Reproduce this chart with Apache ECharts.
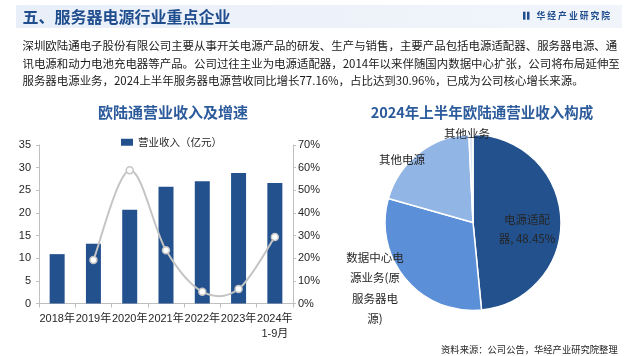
<!DOCTYPE html>
<html>
<head>
<meta charset="utf-8">
<script src="https://cdn.jsdelivr.net/npm/echarts@6/dist/echarts.min.js"></script>
<style>
html,body{margin:0;padding:0;background:#fff;}
#main{width:640px;height:356px;}
</style>
</head>
<body>
<div id="main"></div>
<script>
// ---- data ----
var categories = ['2018年', '2019年', '2020年', '2021年', '2022年', '2023年', '2024年\n1-9月'];
var revenue = [10.9, 13.2, 20.7, 25.8, 27.0, 28.8, 26.6];
var growth = [null, 19.2, 58.8, 23.5, 5.2, 6.4, 29.4];
var leftTicks = [0, 5, 10, 15, 20, 25, 30, 35];
var rightTicks = [0, 10, 20, 30, 40, 50, 60, 70];
var pieNames = ['电源适配器', '数据中心电源业务(原服务器电源)', '其他电源', '其他业务'];
var pieValues = [48.45, 30.96, 19.84, 0.75];
var pieLabels = ['电源适配\n器, 48.45%', '数据中心电\n源业务(原\n服务器电\n源)', '其他电源', '其他业务'];
var paragraph = [
  '深圳欧陆通电子股份有限公司主要从事开关电源产品的研发、生产与销售，主要产品包括电源适配器、服务器电源、通',
  '讯电源和动力电池充电器等产品。公司过往主业为电源适配器，2014年以来伴随国内数据中心扩张，公司将布局延伸至',
  '服务器电源业务，2024上半年服务器电源营收同比增长77.16%，占比达到30.96%，已成为公司核心增长来源。'
];

var FONT = '"Liberation Sans", Arial, "Noto Sans CJK SC", sans-serif';
var CJK = '"Noto Sans CJK SC", "Liberation Sans", sans-serif';
var chart = echarts.init(document.getElementById('main'), null, {renderer: 'canvas'});

// fit paragraph font so that the first line spans the reference width
var cv = document.createElement('canvas').getContext('2d');
cv.font = '12px ' + CJK;
var w12 = cv.measureText(paragraph[0]).width;
var paraSize = Math.round(12 * 595 / w12 * 100) / 100;

var pieColors = ['#22518e', '#5b8fd7', '#91b5e4', '#dde8f6'];
var pieLabelPos = [
  {x: 527, y: 229, lh: 19},
  {x: 375, y: 288, lh: 20.5},
  {x: 402, y: 160, lh: 16},
  {x: 467, y: 134, lh: 16}
];

var graphics = [
  {type: 'rect', shape: {x: 16, y: 5, width: 606, height: 23},
   style: {fill: new echarts.graphic.LinearGradient(0, 0, 1, 0, [{offset: 0, color: '#e9eff9'}, {offset: 1, color: '#f1f5fb'}])}, silent: true},
  {type: 'text', x: 22.5, y: 16.7, style: {text: '五、服务器电源行业重点企业', font: 'bold 16px ' + CJK, fill: '#1f4d8e', verticalAlign: 'middle'}},
  {type: 'rect', shape: {x: 523, y: 11.7, width: 2.5, height: 8}, style: {fill: '#1f4d8e'}},
  {type: 'rect', shape: {x: 527, y: 11.7, width: 2.5, height: 8}, style: {fill: '#1f4d8e'}},
  {type: 'text', x: 536.5, y: 15.7, style: {text: '华 经 产 业 研 究 院', font: 'bold 8.8px ' + CJK, fill: '#1f4d8e', verticalAlign: 'middle'}},
  {type: 'text', x: 617.7, y: 349.3, style: {text: '资料来源：公司公告，华经产业研究院整理', font: '9.3px ' + CJK, fill: '#262626', align: 'right', verticalAlign: 'middle'}}
];
var paraCenters = [46, 63.5, 81];
paragraph.forEach(function (t, i) {
  graphics.push({type: 'text', x: 22.5, y: paraCenters[i], style: {text: t, font: paraSize + 'px ' + CJK, fill: '#1a1a1a', verticalAlign: 'middle'}});
});

function catmullSegment(params, api) {
  var i = params.dataIndex;
  if (i >= growth.length - 1 || growth[i] == null || growth[i + 1] == null) return null;
  var p1 = api.coord([i, growth[i]]);
  var p2 = api.coord([i + 1, growth[i + 1]]);
  var p0 = (i > 0 && growth[i - 1] != null) ? api.coord([i - 1, growth[i - 1]]) : p1;
  var p3 = (i + 2 < growth.length && growth[i + 2] != null) ? api.coord([i + 2, growth[i + 2]]) : p2;
  var t = 1 / 6;
  return {
    type: 'bezierCurve',
    shape: {
      x1: p1[0], y1: p1[1], x2: p2[0], y2: p2[1],
      cpx1: p1[0] + (p2[0] - p0[0]) * t, cpy1: p1[1] + (p2[1] - p0[1]) * t,
      cpx2: p2[0] - (p3[0] - p1[0]) * t, cpy2: p2[1] - (p3[1] - p1[1]) * t
    },
    style: {stroke: '#c4c4c4', lineWidth: 2, fill: null}
  };
}

var option = {
  animation: false,
  textStyle: {fontFamily: FONT},
  title: [
    {text: '欧陆通营业收入及增速', left: 168, top: 100, textAlign: 'center',
     textStyle: {fontSize: 15, fontWeight: 'bold', color: '#2c5b9c', fontFamily: CJK}},
    {text: '2024年上半年欧陆通营业收入构成', left: 477, top: 100, textAlign: 'center',
     textStyle: {fontSize: 14.5, fontWeight: 'bold', color: '#2c5b9c', fontFamily: CJK}}
  ],
  legend: {
    data: ['营业收入（亿元）'], left: 116, top: 132, itemWidth: 12, itemHeight: 7,
    textStyle: {fontSize: 10.5, color: '#262626', fontFamily: CJK}, icon: 'rect'
  },
  grid: {left: 39, right: 347, top: 145, bottom: 52.5},
  xAxis: {
    type: 'category', data: categories,
    axisLine: {lineStyle: {color: '#bfbfbf'}},
    axisTick: {show: true, length: 4, lineStyle: {color: '#bfbfbf'}},
    axisLabel: {interval: 0, fontSize: 11, color: '#262626', margin: 8, lineHeight: 15}
  },
  yAxis: [
    {type: 'value', min: leftTicks[0], max: leftTicks[leftTicks.length - 1], interval: leftTicks[1] - leftTicks[0],
     axisLine: {show: true, lineStyle: {color: '#bfbfbf'}},
     axisTick: {show: true, length: 3, lineStyle: {color: '#bfbfbf'}},
     axisLabel: {fontSize: 11, color: '#262626', margin: 8},
     splitLine: {show: false}},
    {type: 'value', min: rightTicks[0], max: rightTicks[rightTicks.length - 1], interval: rightTicks[1] - rightTicks[0],
     position: 'right',
     axisLine: {show: true, lineStyle: {color: '#bfbfbf'}},
     axisTick: {show: true, length: 3, lineStyle: {color: '#bfbfbf'}},
     axisLabel: {fontSize: 11, color: '#262626', margin: 5, formatter: '{value}%'},
     splitLine: {show: false}}
  ],
  series: [
    {name: '营业收入（亿元）', type: 'bar', data: revenue, barWidth: 15, itemStyle: {color: '#22518e'}},
    {name: '增速曲线', type: 'custom', yAxisIndex: 1, renderItem: catmullSegment, z: 3,
     data: growth.map(function (v, i) { return [i, v == null ? 0 : v]; }), silent: true},
    {name: '增速', type: 'line', yAxisIndex: 1, data: growth, z: 4,
     symbol: 'circle', symbolSize: 7, showSymbol: true,
     lineStyle: {width: 0, opacity: 0},
     itemStyle: {color: '#ffffff', borderColor: '#c4c4c4', borderWidth: 1.5}},
    {name: 'pie', type: 'pie', center: [473, 222.5], radius: 88, startAngle: 90, clockwise: true,
     data: pieNames.map(function (n, i) { return {name: n, value: pieValues[i], itemStyle: {color: pieColors[i]}, label: {lineHeight: pieLabelPos[i].lh}}; }),
     itemStyle: {borderColor: '#ffffff', borderWidth: 1.5},
     label: {
       show: true, position: 'inside', color: '#262626', fontSize: 11.5, fontFamily: CJK,
       formatter: function (p) { return pieLabels[p.dataIndex]; }
     },
     labelLine: {show: false},
     labelLayout: function (p) {
       var pos = pieLabelPos[p.dataIndex];
       return {x: pos.x, y: pos.y, align: 'center', verticalAlign: 'middle'};
     }
    }
  ],
  graphic: graphics
};
chart.setOption(option);
</script>
</body>
</html>
